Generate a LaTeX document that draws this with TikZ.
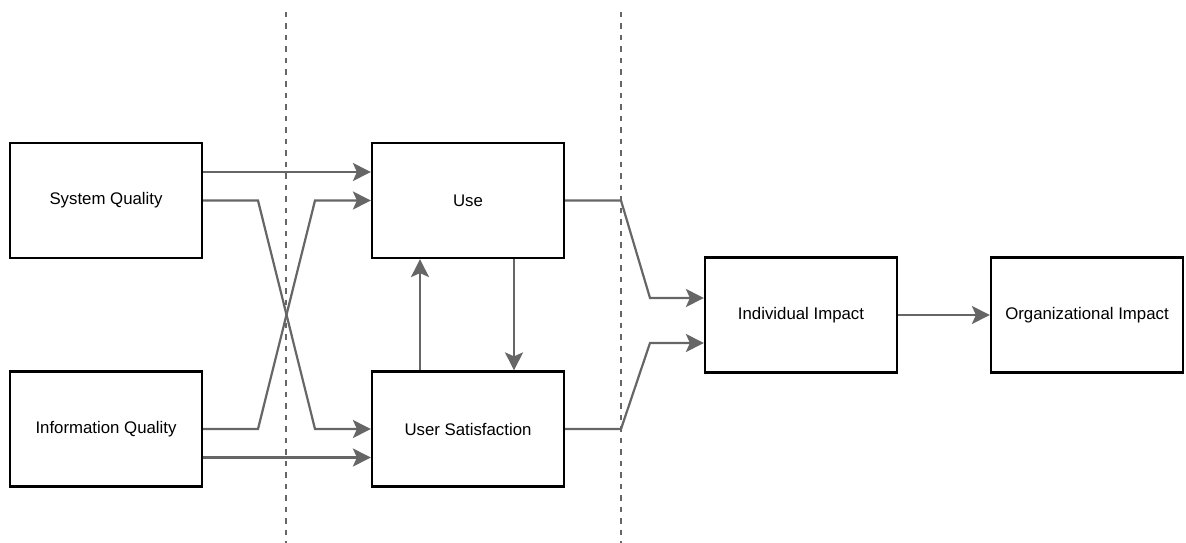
\documentclass[tikz,border=0pt]{standalone}
\usepackage{fontspec}
\setmainfont{Liberation Sans}
\usetikzlibrary{arrows.meta}
\definecolor{linegray}{HTML}{666666}
\tikzset{
  box/.style={draw=black, line width=2.2pt, fill=white, inner sep=0pt,
    minimum width=192pt, minimum height=115pt,
    font=\fontsize{16.8}{20}\selectfont},
  flow/.style={draw=linegray, line width=2.2pt,
    -{Stealth[length=18pt, width=18pt, inset=4pt]}},
  divider/.style={draw=linegray, line width=2pt, dash pattern=on 5.5pt off 6pt}
}
\begin{document}
\begin{tikzpicture}[x=1pt, y=-1pt]
  \useasboundingbox (0,0) rectangle (1186,543);

  % stage dividers
  \coordinate (d1top) at (286,12);  \coordinate (d1bot) at (286,543);
  \coordinate (d2top) at (621,12);  \coordinate (d2bot) at (621,543);
  \draw[divider] (d1top) -- (d1bot);
  \draw[divider] (d2top) -- (d2bot);

  % model constructs
  \node[box] (sq)  at (106,200.5) {System Quality};
  \node[box] (iq)  at (106,429)   {Information Quality};
  \node[box] (use) at (468,200.5) {Use};
  \node[box] (us)  at (468,429)   {User Satisfaction};
  \node[box] (ii)  at (801,315)   {Individual Impact};
  \node[box] (oi)  at (1087,315)  {Organizational Impact};

  % quality -> use / satisfaction
  \draw[flow] ([yshift=28.5pt]sq.east) -- ([yshift=28.5pt]use.west);
  \draw[flow] (sq.east) -- (258,200.5) -- (315,429) -- (us.west);
  \draw[flow] (iq.east) -- (258,429) -- (315,200.5) -- (use.west);
  \draw[flow] ([yshift=-28.5pt]iq.east) -- ([yshift=-28.5pt]us.west);

  % use <-> satisfaction
  \draw[flow] ([xshift=-48pt]us.north) -- ([xshift=-48pt]use.south);
  \draw[flow] ([xshift=46pt]use.south) -- ([xshift=46pt]us.north);

  % towards impact
  \draw[flow] (use.east) -- (621,200.5) -- (650,298) -- ([yshift=17pt]ii.west);
  \draw[flow] (us.east) -- (621,429) -- (650,343) -- ([yshift=-28pt]ii.west);
  \draw[flow] (ii.east) -- (oi.west);
\end{tikzpicture}
\end{document}
